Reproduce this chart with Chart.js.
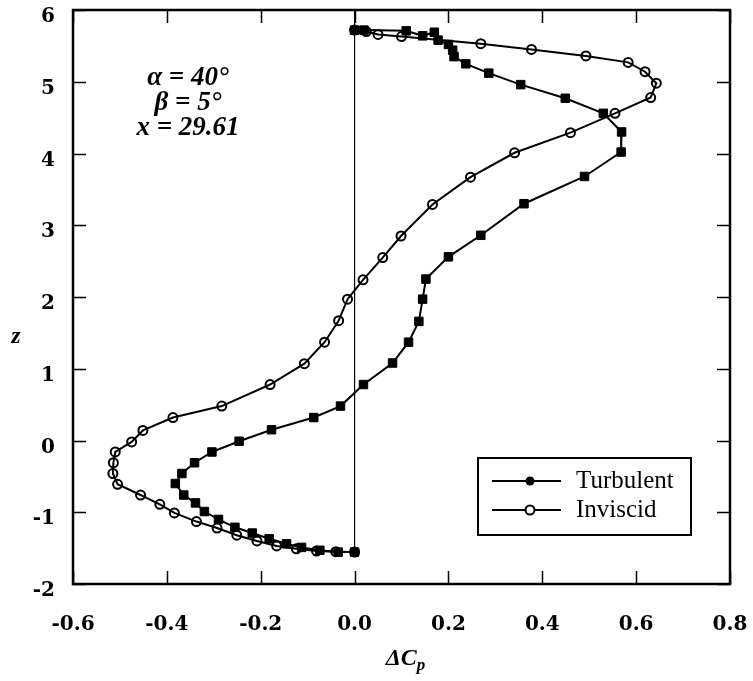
<!DOCTYPE html>
<html lang="en">
<head>
  <meta charset="UTF-8" />
  <title>Delta Cp vs z</title>
  <script src="https://cdn.jsdelivr.net/npm/chart.js"></script>
  <style>
    body { margin: 0; background: #fff; }
    #wrap { width: 753px; height: 681px; }
  </style>
</head>
<body>
  <div id="wrap"><canvas id="chart" width="753" height="681"></canvas></div>

  <script>
    // values
    const turbCp = [0.000, 0.020, 0.110, 0.145, 0.170, 0.178, 0.200, 0.209, 0.212, 0.237,
                    0.286, 0.354, 0.449, 0.530, 0.569, 0.568, 0.490, 0.361, 0.269, 0.200,
                    0.152, 0.145, 0.137, 0.115, 0.081, 0.019, -0.030, -0.087, -0.177, -0.246,
                    -0.304, -0.341, -0.368, -0.382, -0.364, -0.339, -0.320, -0.290, -0.255, -0.218,
                    -0.182, -0.145, -0.113, -0.074, -0.035, 0.000];
    const turbZ = [5.72, 5.72, 5.71, 5.64, 5.69, 5.58, 5.52, 5.44, 5.35, 5.25,
                   5.12, 4.96, 4.77, 4.56, 4.30, 4.02, 3.68, 3.30, 2.86, 2.56,
                   2.25, 1.97, 1.66, 1.37, 1.08, 0.78, 0.48, 0.32, 0.15, -0.01,
                   -0.16, -0.31, -0.46, -0.60, -0.76, -0.87, -0.99, -1.10, -1.21, -1.29,
                   -1.37, -1.44, -1.49, -1.53, -1.555, -1.555];

    const invCp = [0.000, 0.025, 0.050, 0.100, 0.269, 0.377, 0.493, 0.583, 0.619, 0.643,
                   0.631, 0.555, 0.460, 0.341, 0.247, 0.166, 0.099, 0.060, 0.018, -0.015,
                   -0.034, -0.064, -0.107, -0.180, -0.283, -0.387, -0.451, -0.475, -0.510, -0.514,
                   -0.515, -0.505, -0.456, -0.415, -0.384, -0.337, -0.293, -0.251, -0.208, -0.166,
                   -0.124, -0.081, -0.040, 0.000];
    const invZ = [5.72, 5.70, 5.66, 5.63, 5.53, 5.45, 5.36, 5.27, 5.14, 4.98,
                  4.78, 4.56, 4.29, 4.01, 3.67, 3.29, 2.85, 2.55, 2.24, 1.97,
                  1.67, 1.37, 1.07, 0.78, 0.48, 0.32, 0.14, -0.02, -0.16, -0.31,
                  -0.46, -0.61, -0.76, -0.89, -1.01, -1.13, -1.22, -1.32, -1.40, -1.47,
                  -1.51, -1.54, -1.55, -1.555];

    // thin line along dCp = 0
    const zeroCp = [0, 0];
    const zeroZ = [6, -1.555];

    const xTicks = [-0.6, -0.4, -0.2, 0.0, 0.2, 0.4, 0.6, 0.8];
    const yTicks = [-2, -1, 0, 1, 2, 3, 4, 5, 6];
    const notes = ['α = 40°', 'β = 5°', 'x = 29.61'];

    const toPts = (xs, ys) => xs.map((x, i) => ({ x, y: ys[i] }));

    const tickFont = { family: 'DejaVu Serif', size: 20, weight: 'bold' };

    function noPad(s) {
      s.paddingLeft = 0; s.paddingRight = 0; s.paddingTop = 0; s.paddingBottom = 0;
    }

    const framePlugin = {
      id: 'frame',
      afterDraw(chart) {
        const { ctx, chartArea: a, scales } = chart;
        const xs = scales.x, ys = scales.y;
        ctx.save();
        ctx.strokeStyle = '#000';
        ctx.lineWidth = 2.5;
        ctx.strokeRect(a.left, a.top, a.right - a.left, a.bottom - a.top);

        // inward ticks on all four sides
        const len = 13;
        ctx.lineWidth = 1.5;
        ctx.beginPath();
        xTicks.forEach(v => {
          const px = Math.round(xs.getPixelForValue(v)) + 0.5;
          ctx.moveTo(px, a.bottom); ctx.lineTo(px, a.bottom - len);
          ctx.moveTo(px, a.top); ctx.lineTo(px, a.top + len);
        });
        yTicks.forEach(v => {
          const py = Math.round(ys.getPixelForValue(v)) + 0.5;
          ctx.moveTo(a.left, py); ctx.lineTo(a.left + len, py);
          ctx.moveTo(a.right, py); ctx.lineTo(a.right - len, py);
        });
        ctx.stroke();

        // annotation block
        ctx.fillStyle = '#000';
        ctx.textAlign = 'center';
        ctx.textBaseline = 'middle';
        ctx.font = 'italic bold 27px "Liberation Serif"';
        const cx = xs.getPixelForValue(-0.355);
        notes.forEach((t, i) => {
          ctx.fillText(t, cx, a.top + 68 + i * 25);
        });

        // axis titles
        ctx.font = 'italic bold 24px "Liberation Serif"';
        ctx.fillText('z', 16, ys.getPixelForValue(1.44));

        const tx = (a.left + a.right) / 2 + 4;
        const ty = a.bottom + 75;
        ctx.font = 'italic bold 24px "Liberation Serif"';
        const main = 'ΔC';
        const w1 = ctx.measureText(main).width;
        ctx.font = 'italic bold 17px "Liberation Serif"';
        const w2 = ctx.measureText('p').width;
        const start = tx - (w1 + w2) / 2;
        ctx.textAlign = 'left';
        ctx.font = 'italic bold 24px "Liberation Serif"';
        ctx.fillText(main, start, ty);
        ctx.font = 'italic bold 17px "Liberation Serif"';
        ctx.fillText('p', start + w1, ty + 7);

        // legend box
        const bx = a.right - 252, by = a.bottom - 126, bw = 213, bh = 77;
        ctx.lineWidth = 2;
        ctx.strokeRect(bx, by, bw, bh);
        const rows = chart.data.datasets.filter(d => d.label);
        rows.forEach((d, i) => {
          const ry = by + 23 + i * 29;
          ctx.beginPath();
          ctx.lineWidth = 2;
          ctx.moveTo(bx + 14, ry); ctx.lineTo(bx + 83, ry);
          ctx.stroke();
          ctx.beginPath();
          ctx.arc(bx + 52, ry, 4.5, 0, Math.PI * 2);
          if (d.legendFilled) { ctx.fill(); } else { ctx.fillStyle = '#fff'; ctx.fill(); ctx.fillStyle = '#000'; ctx.stroke(); }
          ctx.font = '25px "Liberation Serif"';
          ctx.textAlign = 'left';
          ctx.fillText(d.label, bx + 98, ry);
        });
        ctx.restore();
      }
    };

    new Chart(document.getElementById('chart'), {
      type: 'scatter',
      data: {
        datasets: [
          {
            label: 'Turbulent',
            data: toPts(turbCp, turbZ),
            showLine: true,
            borderColor: '#000',
            borderWidth: 2,
            pointStyle: 'rect',
            pointRadius: 6,
            pointBackgroundColor: '#000',
            pointBorderColor: '#000',
            pointBorderWidth: 1,
            legendFilled: true
          },
          {
            label: 'Inviscid',
            data: toPts(invCp, invZ),
            showLine: true,
            borderColor: '#000',
            borderWidth: 2,
            pointStyle: 'circle',
            pointRadius: 4.5,
            pointBackgroundColor: 'rgba(0,0,0,0)',
            pointBorderColor: '#000',
            pointBorderWidth: 2
          },
          {
            data: toPts(zeroCp, zeroZ),
            showLine: true,
            borderColor: '#000',
            borderWidth: 1,
            pointRadius: 0
          }
        ]
      },
      options: {
        responsive: false,
        animation: false,
        layout: { padding: { top: 10, right: 23, left: 0, bottom: 0 } },
        plugins: { legend: { display: false }, tooltip: { enabled: false } },
        scales: {
          x: {
            type: 'linear',
            min: -0.6, max: 0.8,
            afterBuildTicks: s => { s.ticks = xTicks.map(v => ({ value: v })); },
            afterFit: s => { s.height = 97; noPad(s); },
            ticks: {
              callback: v => v.toFixed(1),
              font: tickFont, color: '#000', padding: 29, maxRotation: 0
            },
            grid: { display: false, drawTicks: false },
            border: { display: false }
          },
          y: {
            type: 'linear',
            min: -2, max: 6,
            afterBuildTicks: s => { s.ticks = yTicks.map(v => ({ value: v })); },
            afterFit: s => { s.width = 73; noPad(s); },
            ticks: {
              callback: v => String(v),
              font: tickFont, color: '#000', padding: 18, labelOffset: 7
            },
            grid: { display: false, drawTicks: false },
            border: { display: false }
          }
        }
      },
      plugins: [framePlugin]
    });
  </script>
</body>
</html>
